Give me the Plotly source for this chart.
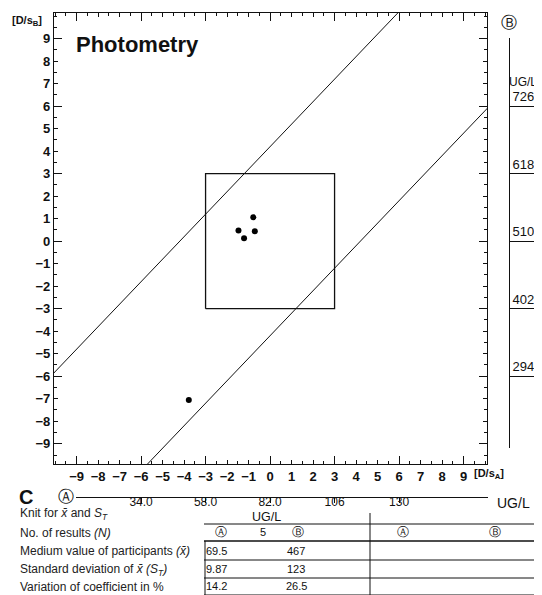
import plotly.graph_objects as go

W, H = 542, 595

# ---------------- data ----------------
pts_x = [-0.78, -0.71, -1.47, -1.21, -3.78]
pts_y = [1.06, 0.44, 0.47, 0.13, -7.06]
box_lim = [-3, 3]
diag_offsets = [4.2, -4.2]
diag_span = [-11, 11]
x_ticks = list(range(-9, 10))
y_ticks = list(range(-9, 10))
long_ticks = [-9, -6, -3, 0, 3, 6, 9]

a_vals = [34.0, 58.0, 82.0, 106, 130]
a_labels = ["34.0", "58.0", "82.0", "106", "130"]
a_center, a_step = 82.0, 8.0      # A value per D/sA unit
b_vals = [726, 618, 510, 402, 294]
b_labels = ["726", "618", "510", "402", "294"]
b_center, b_step = 510.0, 36.0    # B value per D/sB unit

row_labels = [
    "Knit for <i>x̄</i> and <i>S<sub>T</sub></i>",
    "No. of results <i>(N)</i>",
    "Medium value of participants <i>(x̄)</i>",
    "Standard deviation of <i>x̄ (S<sub>T</sub>)</i>",
    "Variation of coefficient in %",
]
n_results = "5"
tbl_A = ["69.5", "9.87", "14.2"]
tbl_B = ["467", "123", "26.5"]
unit_label = "UG/L"

# ---------------- layout geometry (pixels) ----------------
X_RANGE = [-10.05, 10.09]
Y_RANGE = [-9.9, 10.14]
px_l, px_r, px_t, px_b = 46, 479, 5, 456


def fx(p):
    return p / W


def fy(p):
    return 1 - p / H


xdom = [fx(px_l), fx(px_r)]
ydom = [fy(px_b), fy(px_t)]


def sub_range(rng, dom, sub):
    span = rng[1] - rng[0]
    d = dom[1] - dom[0]
    return [rng[0] + (sub[0] - dom[0]) / d * span, rng[0] + (sub[1] - dom[0]) / d * span]


a_dom = [fx(68), fx(480)]
a_xr = sub_range(X_RANGE, xdom, a_dom)
a_range = [a_center + a_step * v for v in a_xr]
b_dom = [fy(440), fy(30)]
b_yr = sub_range(Y_RANGE, ydom, b_dom)
b_range = [b_center + b_step * v for v in b_yr]

BOLD = "Liberation Sans, Arial, sans-serif"
REG = "Liberation Sans, Arial, sans-serif"
INK = "#111111"

fig = go.Figure()

for off in diag_offsets:
    fig.add_trace(go.Scatter(x=diag_span, y=[v + off for v in diag_span], mode="lines",
                             line=dict(color=INK, width=1), hoverinfo="skip", showlegend=False))
bx = [box_lim[0], box_lim[1], box_lim[1], box_lim[0], box_lim[0]]
by = [box_lim[0], box_lim[0], box_lim[1], box_lim[1], box_lim[0]]
fig.add_trace(go.Scatter(x=bx, y=by, mode="lines", line=dict(color=INK, width=1.3),
                         hoverinfo="skip", showlegend=False))
fig.add_trace(go.Scatter(x=pts_x, y=pts_y, mode="markers",
                         marker=dict(color="black", size=6), showlegend=False))

fig.add_trace(go.Scatter(x=[0], y=[0], xaxis="x2", yaxis="y2", mode="markers",
                         marker=dict(opacity=0), hoverinfo="skip", showlegend=False))
fig.add_trace(go.Scatter(x=[a_vals[2]], y=[0], xaxis="x3", yaxis="y", mode="markers",
                         marker=dict(opacity=0), hoverinfo="skip", showlegend=False))
fig.add_trace(go.Scatter(x=[0], y=[b_vals[2]], xaxis="x", yaxis="y3", mode="markers",
                         marker=dict(opacity=0), hoverinfo="skip", showlegend=False))

tickfont = dict(family=BOLD, size=13, color=INK, weight="bold")
fig.update_layout(
    width=W, height=H,
    margin=dict(l=0, r=0, t=0, b=0),
    paper_bgcolor="white", plot_bgcolor="rgba(0,0,0,0)",
    showlegend=False,
    xaxis=dict(domain=xdom, range=X_RANGE, anchor="y", tickvals=x_ticks,
               ticks="inside", ticklen=4, tickcolor=INK, tickwidth=1,
               minor=dict(dtick=0.5, ticks="inside", ticklen=3, tickcolor=INK),
               showline=True, linecolor=INK, linewidth=1.3, mirror="ticks",
               showgrid=False, zeroline=False, tickfont=tickfont, automargin=False),
    yaxis=dict(domain=ydom, range=Y_RANGE, anchor="x", tickvals=y_ticks,
               ticks="inside", ticklen=4, tickcolor=INK, tickwidth=1,
               minor=dict(dtick=0.5, ticks="inside", ticklen=3, tickcolor=INK),
               showline=True, linecolor=INK, linewidth=1.3, mirror="ticks",
               showgrid=False, zeroline=False, tickfont=tickfont, automargin=False),
    xaxis2=dict(overlaying="x", range=X_RANGE, anchor="y", tickvals=long_ticks,
                ticks="inside", ticklen=8, tickcolor=INK, tickwidth=1.2, mirror="ticks",
                showticklabels=False, showgrid=False, zeroline=False, showline=False),
    yaxis2=dict(overlaying="y", range=Y_RANGE, anchor="x", tickvals=long_ticks,
                ticks="inside", ticklen=8, tickcolor=INK, tickwidth=1.2, mirror="ticks",
                showticklabels=False, showgrid=False, zeroline=False, showline=False),
    xaxis3=dict(domain=a_dom, range=a_range, anchor="free", position=fy(489),
                tickvals=a_vals, ticktext=a_labels, ticks="outside", ticklen=5,
                tickcolor=INK, showline=True, linecolor=INK, linewidth=1,
                showgrid=False, zeroline=False, ticklabelstandoff=-11,
                tickfont=dict(family=REG, size=12, color=INK), automargin=False),
    yaxis3=dict(domain=b_dom, range=b_range, anchor="free", position=fx(501), side="right",
                tickvals=b_vals, ticktext=b_labels, ticks="outside", ticklen=27,
                tickcolor=INK, ticklabelposition="outside top", ticklabelstandoff=0,
                showline=True, linecolor=INK, linewidth=1,
                showgrid=False, zeroline=False,
                tickfont=dict(family=REG, size=13, color=INK), automargin=False),
)

ann = []


def text(x, y, s, size=12, family=REG, xanchor="center", bold=False, color=INK):
    f = dict(family=family, size=size, color=color)
    if bold:
        f["weight"] = "bold"
    ann.append(dict(x=fx(x), y=fy(y), xref="paper", yref="paper", text=s, showarrow=False,
                    xanchor=xanchor, yanchor="middle", font=f))


text(66, 36, "Photometry", size=22, family=BOLD, xanchor="left", bold=True)
text(2, 13, "[D/s<sub>B</sub>]", size=11, family=BOLD, xanchor="left", bold=True)
text(464, 466, "[D/s<sub>A</sub>]", size=11, family=BOLD, xanchor="left", bold=True)
text(501, 14, "Ⓑ", size=16, family="DejaVu Sans")
text(499, 74, unit_label, size=12, xanchor="left")
text(9, 489, "C", size=20, family=BOLD, xanchor="left", bold=True)
text(58, 488, "Ⓐ", size=16, family="DejaVu Sans")
text(487, 495, unit_label, size=14, xanchor="left")

row_y = [506, 524.5, 543, 561.5, 579]
for yy, s in zip(row_y, row_labels):
    text(10, yy, s, size=12, family=REG, xanchor="left", color="#222")

# table
text(258, 508.5, unit_label, size=12.5)
text(213, 524, "Ⓐ", size=12, family="DejaVu Sans")
text(255, 524, n_results, size=11)
text(290, 524, "Ⓑ", size=12, family="DejaVu Sans")
text(395, 524, "Ⓐ", size=12, family="DejaVu Sans")
text(487, 524, "Ⓑ", size=12, family="DejaVu Sans")
val_y = [543, 561, 578]
for yy, a, b in zip(val_y, tbl_A, tbl_B):
    text(208, yy, a, size=11)
    text(288, yy, b, size=11)

shapes = []


def hline(y, x0, x1, w=1):
    shapes.append(dict(type="line", xref="paper", yref="paper", x0=fx(x0), x1=fx(x1),
                       y0=fy(y), y1=fy(y), line=dict(color=INK, width=w)))


def vline(x, y0, y1, w=1):
    shapes.append(dict(type="line", xref="paper", yref="paper", x0=fx(x), x1=fx(x),
                       y0=fy(y0), y1=fy(y1), line=dict(color=INK, width=w)))


hline(516, 196, 526)
hline(533, 196, 526, 1.6)
hline(552, 196, 526)
hline(570, 196, 526)
hline(587, 196, 526)
vline(362, 505, 588)
vline(197, 533, 588)

fig.update_layout(annotations=ann, shapes=shapes)
fig.write_html("out.html")
